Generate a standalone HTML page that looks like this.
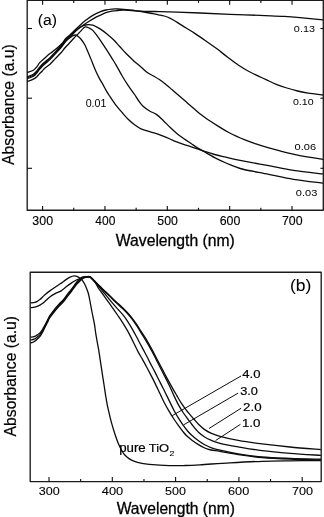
<!DOCTYPE html>
<html><head><meta charset="utf-8"><style>
html,body{margin:0;padding:0;background:#fff;}
body{width:324px;height:517px;overflow:hidden;}
svg{display:block;filter:grayscale(1);}
text{font-family:"Liberation Sans",sans-serif;fill:#000;stroke:#000;}
</style></head><body>
<svg width="324" height="517" viewBox="0 0 324 517">
<g stroke="#0c0c0c" fill="none" stroke-linecap="butt" stroke-linejoin="round">
<rect x="27.20" y="0.30" width="296.10" height="209.90" stroke="#1c1c1c" stroke-width="1.35"/>
<rect x="30.20" y="272.20" width="291.00" height="209.40" stroke="#1c1c1c" stroke-width="1.35"/>
<line x1="42.60" y1="210.20" x2="42.60" y2="206.00" stroke-width="1.10"/>
<line x1="42.60" y1="0.30" x2="42.60" y2="4.70" stroke-width="1.10"/>
<line x1="73.78" y1="210.20" x2="73.78" y2="207.80" stroke-width="1.10"/>
<line x1="73.78" y1="0.30" x2="73.78" y2="2.90" stroke-width="1.10"/>
<line x1="104.96" y1="210.20" x2="104.96" y2="206.00" stroke-width="1.10"/>
<line x1="104.96" y1="0.30" x2="104.96" y2="4.70" stroke-width="1.10"/>
<line x1="136.14" y1="210.20" x2="136.14" y2="207.80" stroke-width="1.10"/>
<line x1="136.14" y1="0.30" x2="136.14" y2="2.90" stroke-width="1.10"/>
<line x1="167.32" y1="210.20" x2="167.32" y2="206.00" stroke-width="1.10"/>
<line x1="167.32" y1="0.30" x2="167.32" y2="4.70" stroke-width="1.10"/>
<line x1="198.50" y1="210.20" x2="198.50" y2="207.80" stroke-width="1.10"/>
<line x1="198.50" y1="0.30" x2="198.50" y2="2.90" stroke-width="1.10"/>
<line x1="229.68" y1="210.20" x2="229.68" y2="206.00" stroke-width="1.10"/>
<line x1="229.68" y1="0.30" x2="229.68" y2="4.70" stroke-width="1.10"/>
<line x1="260.86" y1="210.20" x2="260.86" y2="207.80" stroke-width="1.10"/>
<line x1="260.86" y1="0.30" x2="260.86" y2="2.90" stroke-width="1.10"/>
<line x1="292.04" y1="210.20" x2="292.04" y2="206.00" stroke-width="1.10"/>
<line x1="292.04" y1="0.30" x2="292.04" y2="4.70" stroke-width="1.10"/>
<line x1="27.20" y1="28.50" x2="32.00" y2="28.50" stroke-width="1.10"/>
<line x1="323.30" y1="28.50" x2="320.40" y2="28.50" stroke-width="1.10"/>
<line x1="27.20" y1="98.20" x2="32.00" y2="98.20" stroke-width="1.10"/>
<line x1="323.30" y1="98.20" x2="320.40" y2="98.20" stroke-width="1.10"/>
<line x1="27.20" y1="168.30" x2="32.00" y2="168.30" stroke-width="1.10"/>
<line x1="323.30" y1="168.30" x2="320.40" y2="168.30" stroke-width="1.10"/>
<line x1="49.00" y1="481.60" x2="49.00" y2="477.10" stroke-width="1.10"/>
<line x1="80.65" y1="481.60" x2="80.65" y2="478.90" stroke-width="1.10"/>
<line x1="112.30" y1="481.60" x2="112.30" y2="477.10" stroke-width="1.10"/>
<line x1="143.95" y1="481.60" x2="143.95" y2="478.90" stroke-width="1.10"/>
<line x1="175.60" y1="481.60" x2="175.60" y2="477.10" stroke-width="1.10"/>
<line x1="207.25" y1="481.60" x2="207.25" y2="478.90" stroke-width="1.10"/>
<line x1="238.90" y1="481.60" x2="238.90" y2="477.10" stroke-width="1.10"/>
<line x1="270.55" y1="481.60" x2="270.55" y2="478.90" stroke-width="1.10"/>
<line x1="302.20" y1="481.60" x2="302.20" y2="477.10" stroke-width="1.10"/>
<path d="M27.20 72.50 C27.33 72.47 26.97 72.68 28.00 72.30 C29.03 71.92 31.88 71.17 33.40 70.20 C34.92 69.23 36.12 67.67 37.10 66.50 C38.08 65.33 38.43 64.25 39.30 63.20 C40.17 62.15 41.18 61.25 42.30 60.20 C43.42 59.15 44.72 58.00 46.00 56.90 C47.28 55.80 48.45 54.82 50.00 53.60 C51.55 52.38 53.38 51.20 55.30 49.60 C57.22 48.00 59.82 45.77 61.50 44.00 C63.18 42.23 64.20 40.33 65.40 39.00 C66.60 37.67 67.47 37.13 68.70 36.00 C69.93 34.87 71.13 33.80 72.80 32.20 C74.47 30.60 76.60 28.33 78.70 26.40 C80.80 24.47 83.05 22.43 85.40 20.60 C87.75 18.77 90.37 16.85 92.80 15.40 C95.23 13.95 97.82 12.80 100.00 11.90 C102.18 11.00 103.92 10.47 105.90 10.00 C107.88 9.53 109.92 9.27 111.90 9.10 C113.88 8.93 115.78 8.95 117.80 9.00 C119.82 9.05 121.12 9.13 124.00 9.40 C126.88 9.67 131.77 10.27 135.10 10.60 C138.43 10.93 141.03 11.25 144.00 11.40 C146.97 11.55 150.23 11.47 152.90 11.50 C155.57 11.53 155.98 11.50 160.00 11.60 C164.02 11.70 170.33 11.87 177.00 12.10 C183.67 12.33 191.17 12.63 200.00 13.00 C208.83 13.37 219.17 13.87 230.00 14.30 C240.83 14.73 256.00 15.25 265.00 15.60 C274.00 15.95 278.17 16.07 284.00 16.40 C289.83 16.73 293.50 17.02 300.00 17.60 C306.50 18.18 319.17 19.52 323.00 19.90" stroke-width="1.30"/>
<path d="M27.20 76.70 C27.33 76.65 26.97 76.80 28.00 76.40 C29.03 76.00 31.88 75.27 33.40 74.30 C34.92 73.33 36.12 71.72 37.10 70.60 C38.08 69.48 38.43 68.67 39.30 67.60 C40.17 66.53 41.18 65.30 42.30 64.20 C43.42 63.10 44.72 62.10 46.00 61.00 C47.28 59.90 48.45 59.12 50.00 57.60 C51.55 56.08 53.38 54.00 55.30 51.90 C57.22 49.80 59.82 46.98 61.50 45.00 C63.18 43.02 64.20 41.37 65.40 40.00 C66.60 38.63 67.47 37.97 68.70 36.80 C69.93 35.63 71.13 34.43 72.80 33.00 C74.47 31.57 77.22 29.33 78.70 28.20 C80.18 27.07 79.97 27.35 81.70 26.20 C83.43 25.05 86.63 22.85 89.10 21.30 C91.57 19.75 94.68 17.90 96.50 16.90 C98.32 15.90 98.43 16.00 100.00 15.30 C101.57 14.60 103.92 13.38 105.90 12.70 C107.88 12.02 109.92 11.57 111.90 11.20 C113.88 10.83 115.78 10.68 117.80 10.50 C119.82 10.32 121.12 10.03 124.00 10.10 C126.88 10.17 131.77 10.58 135.10 10.90 C138.43 11.22 141.03 11.53 144.00 12.00 C146.97 12.47 150.48 13.23 152.90 13.70 C155.32 14.17 156.62 14.42 158.50 14.80 C160.38 15.18 162.23 15.42 164.20 16.00 C166.17 16.58 168.25 17.32 170.30 18.30 C172.35 19.28 174.43 20.63 176.50 21.90 C178.57 23.17 180.63 24.60 182.70 25.90 C184.77 27.20 187.02 28.53 188.90 29.70 C190.78 30.87 192.15 31.70 194.00 32.90 C195.85 34.10 197.95 35.50 200.00 36.90 C202.05 38.30 203.53 39.35 206.30 41.30 C209.07 43.25 213.08 45.98 216.60 48.60 C220.12 51.22 223.80 54.27 227.40 57.00 C231.00 59.73 234.60 62.58 238.20 65.00 C241.80 67.42 244.43 69.10 249.00 71.50 C253.57 73.90 261.05 77.27 265.60 79.40 C270.15 81.53 272.75 82.87 276.30 84.30 C279.85 85.73 283.35 86.88 286.90 88.00 C290.45 89.12 294.05 90.13 297.60 91.00 C301.15 91.87 303.97 92.53 308.20 93.20 C312.43 93.87 320.53 94.70 323.00 95.00" stroke-width="1.30"/>
<path d="M27.20 77.70 C27.33 77.65 26.97 77.80 28.00 77.40 C29.03 77.00 31.88 76.27 33.40 75.30 C34.92 74.33 36.12 72.72 37.10 71.60 C38.08 70.48 38.43 69.67 39.30 68.60 C40.17 67.53 41.18 66.30 42.30 65.20 C43.42 64.10 44.72 63.10 46.00 62.00 C47.28 60.90 48.45 60.12 50.00 58.60 C51.55 57.08 53.38 55.00 55.30 52.90 C57.22 50.80 59.82 47.98 61.50 46.00 C63.18 44.02 64.20 42.37 65.40 41.00 C66.60 39.63 67.47 38.97 68.70 37.80 C69.93 36.63 71.13 35.57 72.80 34.00 C74.47 32.43 77.08 29.73 78.70 28.40 C80.32 27.07 81.38 26.57 82.50 26.00 C83.62 25.43 84.40 25.23 85.40 25.00 C86.40 24.77 87.27 24.57 88.50 24.60 C89.73 24.63 91.47 24.82 92.80 25.20 C94.13 25.58 95.10 26.17 96.50 26.90 C97.90 27.63 99.40 28.38 101.20 29.60 C103.00 30.82 105.25 32.50 107.30 34.20 C109.35 35.90 111.43 37.75 113.50 39.80 C115.57 41.85 117.63 44.25 119.70 46.50 C121.77 48.75 123.85 51.18 125.90 53.30 C127.95 55.42 130.48 57.75 132.00 59.20 C133.52 60.65 133.47 60.67 135.00 62.00 C136.53 63.33 139.15 65.45 141.20 67.20 C143.25 68.95 145.25 71.03 147.30 72.50 C149.35 73.97 151.43 74.78 153.50 76.00 C155.57 77.22 157.63 78.40 159.70 79.80 C161.77 81.20 163.85 82.77 165.90 84.40 C167.95 86.03 170.28 88.13 172.00 89.60 C173.72 91.07 174.48 91.73 176.20 93.20 C177.92 94.67 180.25 96.62 182.30 98.40 C184.35 100.18 186.43 102.08 188.50 103.90 C190.57 105.72 192.63 107.52 194.70 109.30 C196.77 111.08 198.85 112.98 200.90 114.60 C202.95 116.22 204.27 117.17 207.00 119.00 C209.73 120.83 213.52 123.27 217.30 125.60 C221.08 127.93 225.08 130.62 229.70 133.00 C234.32 135.38 240.62 138.08 245.00 139.90 C249.38 141.72 252.17 142.62 256.00 143.90 C259.83 145.18 264.00 146.43 268.00 147.60 C272.00 148.77 276.00 149.85 280.00 150.90 C284.00 151.95 287.50 152.90 292.00 153.90 C296.50 154.90 301.83 156.00 307.00 156.90 C312.17 157.80 320.33 158.90 323.00 159.30" stroke-width="1.30"/>
<path d="M27.20 81.50 C27.33 81.45 26.97 81.60 28.00 81.20 C29.03 80.80 31.88 79.90 33.40 79.10 C34.92 78.30 36.12 77.27 37.10 76.40 C38.08 75.53 38.43 74.80 39.30 73.90 C40.17 73.00 41.43 71.92 42.30 71.00 C43.17 70.08 43.22 69.53 44.50 68.40 C45.78 67.27 48.20 65.83 50.00 64.20 C51.80 62.57 53.38 60.60 55.30 58.60 C57.22 56.60 59.92 53.97 61.50 52.20 C63.08 50.43 63.53 49.45 64.80 48.00 C66.07 46.55 67.52 45.20 69.10 43.50 C70.68 41.80 72.92 39.28 74.30 37.80 C75.68 36.32 76.37 35.67 77.40 34.60 C78.43 33.53 79.57 32.40 80.50 31.40 C81.43 30.40 82.18 29.37 83.00 28.60 C83.82 27.83 84.38 26.90 85.40 26.80 C86.42 26.70 87.87 27.40 89.10 28.00 C90.33 28.60 91.48 29.13 92.80 30.40 C94.12 31.67 95.60 33.73 97.00 35.60 C98.40 37.47 99.48 39.05 101.20 41.60 C102.92 44.15 105.45 48.02 107.30 50.90 C109.15 53.78 110.85 56.57 112.30 58.90 C113.75 61.23 114.35 62.05 116.00 64.90 C117.65 67.75 120.13 72.50 122.20 76.00 C124.27 79.50 126.33 82.82 128.40 85.90 C130.47 88.98 132.98 92.15 134.60 94.50 C136.22 96.85 136.73 98.08 138.10 100.00 C139.47 101.92 140.88 104.17 142.80 106.00 C144.72 107.83 147.33 109.60 149.60 111.00 C151.87 112.40 154.13 112.82 156.40 114.40 C158.67 115.98 160.93 118.35 163.20 120.50 C165.47 122.65 167.73 125.15 170.00 127.30 C172.27 129.45 174.47 131.48 176.80 133.40 C179.13 135.32 181.57 137.08 184.00 138.80 C186.43 140.52 189.15 142.20 191.40 143.70 C193.65 145.20 195.43 146.50 197.50 147.80 C199.57 149.10 200.95 149.87 203.80 151.50 C206.65 153.13 210.90 155.68 214.60 157.60 C218.30 159.52 222.60 161.50 226.00 163.00 C229.40 164.50 232.00 165.52 235.00 166.60 C238.00 167.68 238.38 168.22 244.00 169.50 C249.62 170.78 260.47 172.67 268.70 174.30 C276.93 175.93 284.35 177.83 293.40 179.30 C302.45 180.77 318.07 182.47 323.00 183.10" stroke-width="1.30"/>
<path d="M27.20 78.70 C27.33 78.65 26.97 78.80 28.00 78.40 C29.03 78.00 31.88 77.27 33.40 76.30 C34.92 75.33 36.12 73.72 37.10 72.60 C38.08 71.48 38.43 70.67 39.30 69.60 C40.17 68.53 41.18 67.30 42.30 66.20 C43.42 65.10 44.72 64.10 46.00 63.00 C47.28 61.90 48.45 61.12 50.00 59.60 C51.55 58.08 53.38 56.00 55.30 53.90 C57.22 51.80 59.82 49.02 61.50 47.00 C63.18 44.98 64.15 43.23 65.40 41.80 C66.65 40.37 67.82 39.40 69.00 38.40 C70.18 37.40 71.40 36.37 72.50 35.80 C73.60 35.23 74.65 34.90 75.60 35.00 C76.55 35.10 77.38 35.80 78.20 36.40 C79.02 37.00 79.45 37.30 80.50 38.60 C81.55 39.90 83.25 41.97 84.50 44.20 C85.75 46.43 86.75 49.08 88.00 52.00 C89.25 54.92 90.67 58.45 92.00 61.70 C93.33 64.95 94.75 68.68 96.00 71.50 C97.25 74.32 98.33 76.42 99.50 78.60 C100.67 80.78 101.83 82.50 103.00 84.60 C104.17 86.70 105.30 89.15 106.50 91.20 C107.70 93.25 108.57 94.50 110.20 96.90 C111.83 99.30 114.25 102.92 116.30 105.60 C118.35 108.28 120.43 110.63 122.50 113.00 C124.57 115.37 126.63 117.78 128.70 119.80 C130.77 121.82 132.85 123.60 134.90 125.10 C136.95 126.60 138.55 127.70 141.00 128.80 C143.45 129.90 147.03 130.90 149.60 131.70 C152.17 132.50 154.13 132.85 156.40 133.60 C158.67 134.35 160.93 135.30 163.20 136.20 C165.47 137.10 167.87 138.10 170.00 139.00 C172.13 139.90 173.75 140.72 176.00 141.60 C178.25 142.48 180.93 143.43 183.50 144.30 C186.07 145.17 188.02 145.65 191.40 146.80 C194.78 147.95 199.93 149.92 203.80 151.20 C207.67 152.48 210.90 153.50 214.60 154.50 C218.30 155.50 222.60 156.38 226.00 157.20 C229.40 158.02 232.00 158.73 235.00 159.40 C238.00 160.07 238.38 160.15 244.00 161.20 C249.62 162.25 260.47 164.17 268.70 165.70 C276.93 167.23 284.35 169.03 293.40 170.40 C302.45 171.77 318.07 173.32 323.00 173.90" stroke-width="1.30"/>
<path d="M30.40 302.90 C31.15 302.80 33.72 302.58 34.90 302.30 C36.08 302.02 36.67 301.65 37.50 301.20 C38.33 300.75 39.02 300.33 39.90 299.60 C40.78 298.87 41.82 297.75 42.80 296.80 C43.78 295.85 44.63 294.88 45.80 293.90 C46.97 292.92 48.32 291.97 49.80 290.90 C51.28 289.83 53.07 288.62 54.70 287.50 C56.33 286.38 58.38 285.02 59.60 284.20 C60.82 283.38 60.93 283.37 62.00 282.60 C63.07 281.83 64.67 280.50 66.00 279.60 C67.33 278.70 68.67 277.82 70.00 277.20 C71.33 276.58 72.75 276.00 74.00 275.90 C75.25 275.80 76.50 276.22 77.50 276.60 C78.50 276.98 79.25 277.67 80.00 278.20 C80.75 278.73 81.25 278.87 82.00 279.80 C82.75 280.73 83.70 282.27 84.50 283.80 C85.30 285.33 86.13 287.30 86.80 289.00 C87.47 290.70 87.95 291.83 88.50 294.00 C89.05 296.17 89.48 298.83 90.10 302.00 C90.72 305.17 91.48 309.35 92.20 313.00 C92.92 316.65 93.82 320.55 94.40 323.90 C94.98 327.25 95.22 330.02 95.70 333.10 C96.18 336.18 96.82 339.70 97.30 342.40 C97.78 345.10 98.15 346.60 98.60 349.30 C99.05 352.00 99.53 355.50 100.00 358.60 C100.47 361.70 100.93 364.82 101.40 367.90 C101.87 370.98 102.33 374.08 102.80 377.10 C103.27 380.12 103.73 382.97 104.20 386.00 C104.67 389.03 105.10 392.20 105.60 395.30 C106.10 398.40 106.58 401.50 107.20 404.60 C107.82 407.70 108.57 410.82 109.30 413.90 C110.03 416.98 110.67 419.75 111.60 423.10 C112.53 426.45 113.80 430.65 114.90 434.00 C116.00 437.35 117.10 440.53 118.20 443.20 C119.30 445.87 120.43 448.07 121.50 450.00 C122.57 451.93 123.35 453.37 124.60 454.80 C125.85 456.23 127.35 457.50 129.00 458.60 C130.65 459.70 132.50 460.63 134.50 461.40 C136.50 462.17 138.53 462.70 141.00 463.20 C143.47 463.70 144.62 464.00 149.30 464.40 C153.98 464.80 163.15 465.42 169.10 465.60 C175.05 465.78 179.85 465.63 185.00 465.50 C190.15 465.37 192.50 465.25 200.00 464.80 C207.50 464.35 219.67 463.38 230.00 462.80 C240.33 462.22 252.00 461.63 262.00 461.30 C272.00 460.97 280.18 460.92 290.00 460.80 C299.82 460.68 315.75 460.63 320.90 460.60" stroke-width="1.30"/>
<path d="M30.40 307.70 C31.15 307.62 33.32 307.62 34.90 307.20 C36.48 306.78 38.58 305.85 39.90 305.20 C41.22 304.55 41.82 304.07 42.80 303.30 C43.78 302.53 44.63 301.65 45.80 300.60 C46.97 299.55 48.32 298.12 49.80 297.00 C51.28 295.88 53.07 294.80 54.70 293.90 C56.33 293.00 58.38 292.22 59.60 291.60 C60.82 290.98 60.85 291.03 62.00 290.20 C63.15 289.37 64.95 287.78 66.50 286.60 C68.05 285.42 69.88 284.07 71.30 283.10 C72.72 282.13 73.77 281.48 75.00 280.80 C76.23 280.12 77.47 279.52 78.70 279.00 C79.93 278.48 81.18 278.07 82.40 277.70 C83.62 277.33 84.98 277.00 86.00 276.80 C87.02 276.60 87.78 276.50 88.50 276.50 C89.22 276.50 89.55 276.35 90.30 276.80 C91.05 277.25 92.07 278.30 93.00 279.20 C93.93 280.10 94.65 280.93 95.90 282.20 C97.15 283.47 98.98 285.30 100.50 286.80 C102.02 288.30 103.45 289.73 105.00 291.20 C106.55 292.67 107.97 293.83 109.80 295.60 C111.63 297.37 113.87 299.80 116.00 301.80 C118.13 303.80 120.72 305.83 122.60 307.60 C124.48 309.37 125.75 310.70 127.30 312.40 C128.85 314.10 130.37 315.83 131.90 317.80 C133.43 319.77 134.97 321.93 136.50 324.20 C138.03 326.47 139.55 329.00 141.10 331.40 C142.65 333.80 144.00 335.60 145.80 338.60 C147.60 341.60 150.12 346.13 151.90 349.40 C153.68 352.67 154.80 354.97 156.50 358.20 C158.20 361.43 160.40 365.57 162.10 368.80 C163.80 372.03 165.02 374.47 166.70 377.60 C168.38 380.73 170.53 384.63 172.20 387.60 C173.87 390.57 175.18 392.80 176.70 395.40 C178.22 398.00 179.77 400.83 181.30 403.20 C182.83 405.57 184.45 407.70 185.90 409.60 C187.35 411.50 188.65 413.00 190.00 414.60 C191.35 416.20 192.58 417.60 194.00 419.20 C195.42 420.80 196.72 422.47 198.50 424.20 C200.28 425.93 202.63 428.12 204.70 429.60 C206.77 431.08 208.35 431.98 210.90 433.10 C213.45 434.22 215.45 435.08 220.00 436.30 C224.55 437.52 231.20 439.13 238.20 440.40 C245.20 441.67 253.37 442.80 262.00 443.90 C270.63 445.00 280.18 446.05 290.00 447.00 C299.82 447.95 315.75 449.17 320.90 449.60" stroke-width="1.30"/>
<path d="M30.40 336.95 C30.58 336.97 30.90 337.13 31.50 337.09 C32.10 337.05 33.02 337.08 34.00 336.71 C34.98 336.33 36.40 335.48 37.40 334.84 C38.40 334.20 39.18 333.71 40.00 332.87 C40.82 332.02 41.57 330.88 42.30 329.76 C43.03 328.63 43.53 327.73 44.40 326.12 C45.27 324.51 46.60 321.87 47.50 320.10 C48.40 318.33 48.55 317.40 49.80 315.50 C51.05 313.60 53.47 310.60 55.00 308.70 C56.53 306.80 57.63 305.57 59.00 304.10 C60.37 302.63 61.87 301.43 63.20 299.90 C64.53 298.37 65.65 296.65 67.00 294.90 C68.35 293.15 69.67 291.55 71.30 289.40 C72.93 287.25 75.27 283.84 76.80 282.00 C78.33 280.16 79.47 279.20 80.50 278.36 C81.53 277.53 82.08 277.27 83.00 276.99 C83.92 276.71 85.08 276.71 86.00 276.68 C86.92 276.65 87.78 276.75 88.50 276.80 C89.22 276.85 89.55 276.53 90.30 277.00 C91.05 277.47 92.07 278.65 93.00 279.60 C93.93 280.55 94.65 281.42 95.90 282.70 C97.15 283.98 98.98 285.78 100.50 287.30 C102.02 288.82 103.45 290.28 105.00 291.80 C106.55 293.32 107.97 294.60 109.80 296.40 C111.63 298.20 113.87 300.58 116.00 302.60 C118.13 304.62 120.72 306.70 122.60 308.50 C124.48 310.30 125.75 311.68 127.30 313.40 C128.85 315.12 130.37 316.80 131.90 318.80 C133.43 320.80 134.97 323.07 136.50 325.40 C138.03 327.73 139.55 330.30 141.10 332.80 C142.65 335.30 144.00 337.33 145.80 340.40 C147.60 343.47 150.12 347.90 151.90 351.20 C153.68 354.50 154.80 356.87 156.50 360.20 C158.20 363.53 160.40 367.87 162.10 371.20 C163.80 374.53 165.32 377.43 166.70 380.20 C168.08 382.97 169.20 385.23 170.40 387.80 C171.60 390.37 172.55 392.75 173.90 395.60 C175.25 398.45 176.97 402.08 178.50 404.90 C180.03 407.72 181.55 410.15 183.10 412.50 C184.65 414.85 186.27 416.92 187.80 419.00 C189.33 421.08 190.52 422.80 192.30 425.00 C194.08 427.20 196.43 430.20 198.50 432.20 C200.57 434.20 202.63 435.67 204.70 437.00 C206.77 438.33 208.35 439.15 210.90 440.20 C213.45 441.25 215.45 442.20 220.00 443.30 C224.55 444.40 231.20 445.58 238.20 446.80 C245.20 448.02 253.37 449.52 262.00 450.60 C270.63 451.68 280.18 452.50 290.00 453.30 C299.82 454.10 315.75 455.05 320.90 455.40" stroke-width="1.30"/>
<path d="M30.40 339.90 C30.58 339.90 30.90 340.02 31.50 339.90 C32.10 339.78 33.02 339.70 34.00 339.20 C34.98 338.70 36.40 337.67 37.40 336.90 C38.40 336.13 39.18 335.55 40.00 334.60 C40.82 333.65 41.57 332.42 42.30 331.20 C43.03 329.98 43.53 328.97 44.40 327.30 C45.27 325.63 46.60 322.98 47.50 321.20 C48.40 319.42 48.55 318.50 49.80 316.60 C51.05 314.70 53.47 311.70 55.00 309.80 C56.53 307.90 57.63 306.67 59.00 305.20 C60.37 303.73 61.87 302.53 63.20 301.00 C64.53 299.47 65.65 297.75 67.00 296.00 C68.35 294.25 69.67 292.65 71.30 290.50 C72.93 288.35 75.27 284.95 76.80 283.10 C78.33 281.25 79.47 280.30 80.50 279.40 C81.53 278.50 82.08 278.10 83.00 277.70 C83.92 277.30 85.08 277.15 86.00 277.00 C86.92 276.85 87.78 276.77 88.50 276.80 C89.22 276.83 89.55 276.67 90.30 277.20 C91.05 277.73 92.07 279.02 93.00 280.00 C93.93 280.98 94.65 281.70 95.90 283.10 C97.15 284.50 98.97 286.55 100.50 288.40 C102.03 290.25 103.10 291.73 105.10 294.20 C107.10 296.67 110.35 300.67 112.50 303.20 C114.65 305.73 116.32 307.53 118.00 309.40 C119.68 311.27 121.05 312.50 122.60 314.40 C124.15 316.30 125.75 318.47 127.30 320.80 C128.85 323.13 130.37 325.73 131.90 328.40 C133.43 331.07 134.72 333.47 136.50 336.80 C138.28 340.13 140.80 345.00 142.60 348.40 C144.40 351.80 146.07 354.83 147.30 357.20 C148.53 359.57 148.78 360.23 150.00 362.60 C151.22 364.97 153.05 368.37 154.60 371.40 C156.15 374.43 157.75 377.73 159.30 380.80 C160.85 383.87 162.60 387.20 163.90 389.80 C165.20 392.40 165.43 393.00 167.10 396.40 C168.77 399.80 172.00 406.57 173.90 410.20 C175.80 413.83 176.97 415.70 178.50 418.20 C180.03 420.70 181.55 423.03 183.10 425.20 C184.65 427.37 186.27 429.43 187.80 431.20 C189.33 432.97 190.52 434.20 192.30 435.80 C194.08 437.40 196.43 439.30 198.50 440.80 C200.57 442.30 202.63 443.67 204.70 444.80 C206.77 445.93 208.35 446.70 210.90 447.60 C213.45 448.50 215.45 449.17 220.00 450.20 C224.55 451.23 231.20 452.67 238.20 453.80 C245.20 454.93 253.37 456.23 262.00 457.00 C270.63 457.77 280.18 458.03 290.00 458.40 C299.82 458.77 315.75 459.07 320.90 459.20" stroke-width="1.30"/>
<path d="M30.40 342.85 C30.58 342.83 30.90 342.90 31.50 342.71 C32.10 342.52 33.02 342.32 34.00 341.69 C34.98 341.07 36.40 339.86 37.40 338.96 C38.40 338.07 39.18 337.39 40.00 336.33 C40.82 335.28 41.57 333.95 42.30 332.64 C43.03 331.33 43.53 330.20 44.40 328.48 C45.27 326.75 46.60 324.10 47.50 322.30 C48.40 320.50 48.55 319.60 49.80 317.70 C51.05 315.80 53.47 312.80 55.00 310.90 C56.53 309.00 57.63 307.77 59.00 306.30 C60.37 304.83 61.87 303.63 63.20 302.10 C64.53 300.57 65.65 298.85 67.00 297.10 C68.35 295.35 69.67 293.75 71.30 291.60 C72.93 289.45 75.27 286.06 76.80 284.20 C78.33 282.34 79.47 281.40 80.50 280.44 C81.53 279.47 82.08 278.93 83.00 278.41 C83.92 277.89 85.08 277.59 86.00 277.32 C86.92 277.05 87.78 276.79 88.50 276.80 C89.22 276.81 89.55 276.88 90.30 277.40 C91.05 277.92 92.07 278.87 93.00 279.90 C93.93 280.93 94.97 282.20 95.90 283.60 C96.83 285.00 97.37 286.43 98.60 288.30 C99.83 290.17 101.75 292.63 103.30 294.80 C104.85 296.97 106.37 299.13 107.90 301.30 C109.43 303.47 110.90 305.52 112.50 307.80 C114.10 310.08 115.82 312.53 117.50 315.00 C119.18 317.47 120.97 320.03 122.60 322.60 C124.23 325.17 125.90 327.93 127.30 330.40 C128.70 332.87 129.22 333.87 131.00 337.40 C132.78 340.93 136.07 347.90 138.00 351.60 C139.93 355.30 141.05 356.83 142.60 359.60 C144.15 362.37 146.07 365.90 147.30 368.20 C148.53 370.50 148.78 371.03 150.00 373.40 C151.22 375.77 153.05 379.27 154.60 382.40 C156.15 385.53 158.25 390.00 159.30 392.20 C160.35 394.40 160.02 393.77 160.90 395.60 C161.78 397.43 163.20 400.53 164.60 403.20 C166.00 405.87 167.75 408.97 169.30 411.60 C170.85 414.23 172.37 416.67 173.90 419.00 C175.43 421.33 176.80 423.27 178.50 425.60 C180.20 427.93 182.70 431.27 184.10 433.00 C185.50 434.73 185.53 434.77 186.90 436.00 C188.27 437.23 190.37 438.97 192.30 440.40 C194.23 441.83 196.43 443.33 198.50 444.60 C200.57 445.87 202.63 447.10 204.70 448.00 C206.77 448.90 208.35 449.43 210.90 450.00 C213.45 450.57 215.45 450.63 220.00 451.40 C224.55 452.17 231.20 453.57 238.20 454.60 C245.20 455.63 253.37 456.83 262.00 457.60 C270.63 458.37 280.18 458.80 290.00 459.20 C299.82 459.60 315.75 459.87 320.90 460.00" stroke-width="1.30"/>
<line x1="172.30" y1="415.60" x2="241.00" y2="376.00" stroke-width="1.00"/>
<line x1="183.70" y1="424.80" x2="238.10" y2="393.10" stroke-width="1.00"/>
<line x1="209.00" y1="428.50" x2="241.20" y2="408.20" stroke-width="1.00"/>
<line x1="215.60" y1="440.50" x2="240.40" y2="424.40" stroke-width="1.00"/>
</g>
<g>
<text transform="translate(37.85 24.60) scale(1.0312 1)" font-size="15.30" stroke-width="0.08">(a)</text>
<text transform="translate(293.87 31.80) scale(1.1543 1)" font-size="9.40" stroke-width="0.00">0.13</text>
<text transform="translate(292.88 104.80) scale(1.1317 1)" font-size="9.40" stroke-width="0.00">0.10</text>
<text transform="translate(294.57 149.50) scale(1.1769 1)" font-size="9.40" stroke-width="0.00">0.06</text>
<text transform="translate(295.87 195.70) scale(1.1769 1)" font-size="9.40" stroke-width="0.00">0.03</text>
<text transform="translate(85.68 107.00) scale(1.0383 1)" font-size="10.30" stroke-width="0.00">0.01</text>
<text transform="translate(32.33 224.90) scale(1.0350 1)" font-size="12.00" stroke-width="0.12">300</text>
<text transform="translate(95.26 224.90) scale(1.0027 1)" font-size="12.00" stroke-width="0.12">400</text>
<text transform="translate(157.31 224.90) scale(1.0258 1)" font-size="12.00" stroke-width="0.12">500</text>
<text transform="translate(219.68 224.90) scale(1.0322 1)" font-size="12.00" stroke-width="0.12">600</text>
<text transform="translate(281.88 224.90) scale(1.0322 1)" font-size="12.00" stroke-width="0.12">700</text>
<text transform="translate(115.80 245.60) scale(0.9952 1)" font-size="15.80" stroke-width="0.30">Wavelength (nm)</text>
<text transform="translate(13.75 165.00) rotate(-90) scale(0.9970 1)" font-size="15.80" stroke-width="0.2">Absorbance (a.u)</text>
<text transform="translate(289.95 290.80) scale(1.1070 1)" font-size="15.80" stroke-width="0.05">(b)</text>
<text transform="translate(242.24 378.00) scale(1.2376 1)" font-size="10.60" stroke-width="0.18">4.0</text>
<text transform="translate(240.22 394.50) scale(1.2042 1)" font-size="10.60" stroke-width="0.18">3.0</text>
<text transform="translate(243.03 410.90) scale(1.2588 1)" font-size="10.60" stroke-width="0.17">2.0</text>
<text transform="translate(241.97 426.90) scale(1.2564 1)" font-size="10.60" stroke-width="0.18">1.0</text>
<text transform="translate(119.20 451.60) scale(1.1159 1)" font-size="11.90" stroke-width="0.20">pure</text>
<text transform="translate(148.74 451.50) scale(1.1359 1)" font-size="11.40" stroke-width="0.19">TiO</text>
<text transform="translate(169.57 455.80) scale(1.1442 1)" font-size="7.60" stroke-width="0.09">2</text>
<text transform="translate(38.72 494.90) scale(1.0631 1)" font-size="11.80" stroke-width="0.11">300</text>
<text transform="translate(101.84 494.90) scale(1.0880 1)" font-size="11.80" stroke-width="0.11">400</text>
<text transform="translate(165.10 494.90) scale(1.0591 1)" font-size="11.80" stroke-width="0.11">500</text>
<text transform="translate(228.06 494.90) scale(1.0765 1)" font-size="11.80" stroke-width="0.11">600</text>
<text transform="translate(291.97 494.90) scale(1.0712 1)" font-size="11.80" stroke-width="0.11">700</text>
<text transform="translate(116.70 513.50) scale(0.9939 1)" font-size="15.70" stroke-width="0.30">Wavelength (nm)</text>
<text transform="translate(15.70 436.40) rotate(-90) scale(1.0008 1)" font-size="15.70" stroke-width="0.2">Absorbance (a.u)</text>
</g>
</svg>
</body></html>
